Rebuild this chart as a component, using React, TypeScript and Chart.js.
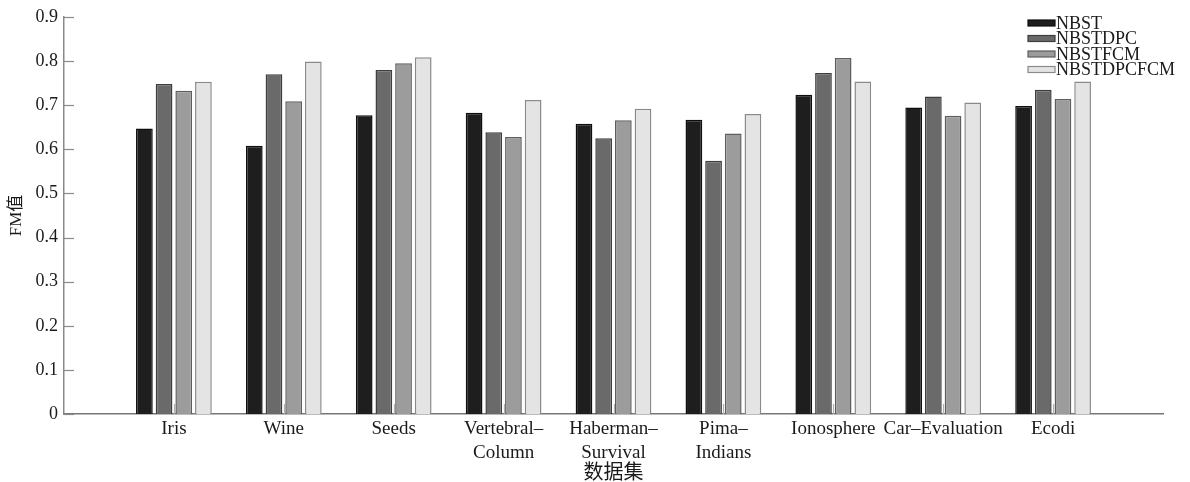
import React, { useEffect, useRef } from 'react';
import { Chart, registerables } from 'chart.js';

Chart.register(...registerables);

const categories: string[][] = [
  ['Iris'],
  ['Wine'],
  ['Seeds'],
  ['Vertebral–', 'Column'],
  ['Haberman–', 'Survival'],
  ['Pima–', 'Indians'],
  ['Ionosphere'],
  ['Car–Evaluation'],
  ['Ecodi'],
];
const seriesNames = ['NBST', 'NBSTDPC', 'NBSTFCM', 'NBSTDPCFCM'];
const nbst = [0.647, 0.608, 0.677, 0.683, 0.658, 0.667, 0.724, 0.695, 0.698];
const nbstdpc = [0.748, 0.770, 0.780, 0.639, 0.625, 0.574, 0.773, 0.720, 0.735];
const nbstfcm = [0.733, 0.709, 0.795, 0.628, 0.666, 0.636, 0.807, 0.676, 0.714];
const nbstdpcfcm = [0.753, 0.799, 0.809, 0.712, 0.692, 0.680, 0.754, 0.706, 0.754];
const yMin = 0;
const yMax = 0.9;
const yStep = 0.1;
const xMin = 0;
const xMax = 10;
const yTitle = 'FM值';
const xTitle = '数据集';

const fillColors = ['#1e1e1e', '#6a6a6a', '#9c9c9c', '#e4e4e4'];
const edgeColors = ['#0e0e0e', '#3e3e3e', '#5e5e5e', '#8a8a8a'];
const FONT = "'Liberation Serif', 'Times New Roman', 'Noto Sans CJK SC', serif";

const inwardTicks = {
  id: 'inwardTicks',
  beforeDatasetsDraw(chart: any) {
    const { ctx, chartArea, scales } = chart;
    const y = scales.y;
    const x = scales.x;
    ctx.save();
    ctx.lineWidth = 1.2;
    ctx.strokeStyle = '#8a8a8a';
    y.ticks.forEach((t: any) => {
      const py = Math.round(y.getPixelForValue(t.value)) + 0.5;
      ctx.beginPath();
      ctx.moveTo(chartArea.left, py);
      ctx.lineTo(chartArea.left + 10, py);
      ctx.stroke();
    });
    ctx.strokeStyle = '#b0b0b0';
    x.ticks.forEach((t: any) => {
      if (t.value < 1 || t.value > categories.length) return;
      const px = Math.round(x.getPixelForValue(t.value)) + 0.5;
      ctx.beginPath();
      ctx.moveTo(px, chartArea.bottom);
      ctx.lineTo(px, chartArea.bottom - 10);
      ctx.stroke();
    });
    ctx.restore();
  },
};

const boxLegend = {
  id: 'boxLegend',
  afterDraw(chart: any) {
    const { ctx, chartArea } = chart;
    const left = chartArea.right - 135;
    const top = chartArea.top + 6;
    ctx.save();
    ctx.font = `18px ${FONT}`;
    ctx.textBaseline = 'middle';
    ctx.textAlign = 'left';
    chart.data.datasets.forEach((ds: any, i: number) => {
      const cy = top + i * 15.5;
      ctx.fillStyle = ds.backgroundColor;
      ctx.fillRect(left, cy - 3, 27, 6);
      ctx.lineWidth = 1.2;
      ctx.strokeStyle = ds.borderColor;
      ctx.strokeRect(left, cy - 3, 27, 6);
      ctx.fillStyle = '#1a1a1a';
      ctx.fillText(ds.label, left + 28, cy + 1);
    });
    ctx.restore();
  },
};

export default function App() {
  const canvasRef = useRef<HTMLCanvasElement | null>(null);

  useEffect(() => {
    if (!canvasRef.current) return;
    const series = [nbst, nbstdpc, nbstfcm, nbstdpcfcm];
    const chart = new Chart(canvasRef.current, {
      type: 'bar',
      data: {
        datasets: series.map((vals, k) => ({
          label: seriesNames[k],
          data: vals.map((v, i) => ({ x: i + 1, y: v })),
          backgroundColor: fillColors[k],
          borderColor: edgeColors[k],
          borderWidth: 1.5,
          barPercentage: 0.85,
          categoryPercentage: 0.716,
        })),
      },
      options: {
        animation: false,
        responsive: true,
        maintainAspectRatio: false,
        layout: { padding: { top: 17, right: 27, bottom: 0, left: 0 } },
        plugins: {
          legend: { display: false },
          tooltip: { enabled: false },
        },
        scales: {
          x: {
            type: 'linear',
            min: xMin,
            max: xMax,
            offset: false,
            afterFit: (s: any) => { s.height = 68; },
            grid: { display: false, drawTicks: false, offset: false },
            border: { display: true, color: '#777', width: 1.5 },
            ticks: {
              stepSize: 1,
              autoSkip: false,
              maxRotation: 0,
              padding: 3,
              color: '#1a1a1a',
              font: { family: FONT, size: 19, lineHeight: 1.25 },
              callback: (value: any) => {
                const i = Math.round(Number(value)) - 1;
                return categories[i] ?? '';
              },
            },
            title: {
              display: true,
              text: xTitle,
              color: '#1a1a1a',
              font: { family: FONT, size: 20, lineHeight: 1 },
              padding: { top: 0, bottom: -2 },
            },
          },
          y: {
            min: yMin,
            max: yMax,
            afterFit: (s: any) => { s.width = 64; },
            grid: { display: false, drawTicks: false },
            border: { display: true, color: '#8a8a8a', width: 1.5 },
            ticks: {
              stepSize: yStep,
              padding: 6,
              color: '#1a1a1a',
              font: { family: FONT, size: 18 },
              callback: (value: any) => String(Number(Number(value).toFixed(1))),
            },
            title: {
              display: true,
              text: yTitle,
              color: '#1a1a1a',
              font: { family: FONT, size: 17, lineHeight: 1 },
              padding: { top: 8, bottom: 0 },
            },
          },
        },
      },
      plugins: [inwardTicks, boxLegend],
    } as any);
    return () => chart.destroy();
  }, []);

  return (
    <div style={{ position: 'absolute', left: 0, top: 0, width: 1190, height: 482, background: '#fff' }}>
      <canvas ref={canvasRef} />
    </div>
  );
}
